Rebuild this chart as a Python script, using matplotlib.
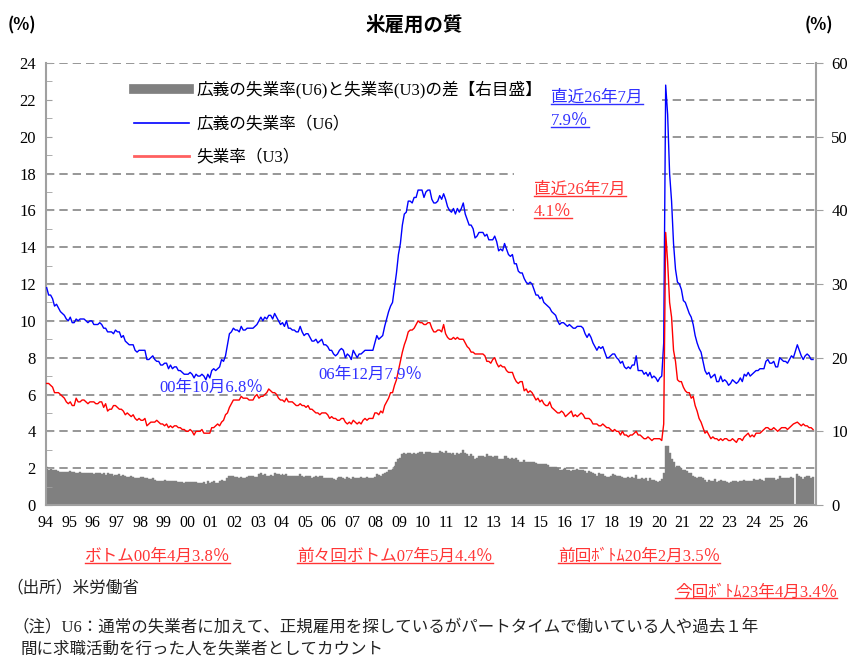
import numpy as np
import matplotlib
matplotlib.use('Agg')
import matplotlib.pyplot as plt
from matplotlib.lines import Line2D
from matplotlib.patches import Rectangle

JP = ['Liberation Serif', 'Noto Sans CJK JP']
plt.rcParams['font.family'] = JP

# x tick labels (one per year, Jan position)
years = [str(y % 100).zfill(2) for y in range(1994, 2027)]

# U3 unemployment rate, monthly from 1994-01 to 2026-07 (2025-10 missing)
u3 = [
    6.6, 6.6, 6.5, 6.4, 6.1, 6.1, 6.1, 6.0, 5.9, 5.8, 5.6, 5.5,   # 94
    5.6, 5.4, 5.4, 5.8, 5.6, 5.6, 5.7, 5.7, 5.6, 5.5, 5.6, 5.6,   # 95
    5.6, 5.5, 5.5, 5.6, 5.6, 5.3, 5.5, 5.1, 5.2, 5.2, 5.4, 5.4,   # 96
    5.3, 5.2, 5.2, 5.1, 4.9, 5.0, 4.9, 4.8, 4.9, 4.7, 4.6, 4.7,   # 97
    4.6, 4.6, 4.7, 4.3, 4.4, 4.5, 4.5, 4.5, 4.6, 4.5, 4.4, 4.4,   # 98
    4.3, 4.4, 4.2, 4.3, 4.2, 4.3, 4.3, 4.2, 4.2, 4.1, 4.1, 4.0,   # 99
    4.0, 4.1, 4.0, 3.8, 4.0, 4.0, 4.0, 4.1, 3.9, 3.9, 3.9, 3.9,   # 00
    4.2, 4.2, 4.3, 4.4, 4.3, 4.5, 4.6, 4.9, 5.0, 5.3, 5.5, 5.7,   # 01
    5.7, 5.7, 5.7, 5.9, 5.8, 5.8, 5.8, 5.7, 5.7, 5.7, 5.9, 6.0,   # 02
    5.8, 5.9, 5.9, 6.0, 6.1, 6.3, 6.2, 6.1, 6.1, 6.0, 5.8, 5.7,   # 03
    5.7, 5.6, 5.8, 5.6, 5.6, 5.6, 5.5, 5.4, 5.4, 5.5, 5.4, 5.4,   # 04
    5.3, 5.4, 5.2, 5.2, 5.1, 5.0, 5.0, 4.9, 5.0, 5.0, 5.0, 4.9,   # 05
    4.7, 4.8, 4.7, 4.7, 4.6, 4.6, 4.7, 4.7, 4.5, 4.4, 4.5, 4.4,   # 06
    4.6, 4.5, 4.4, 4.5, 4.4, 4.6, 4.7, 4.6, 4.7, 4.7, 4.7, 5.0,   # 07
    5.0, 4.9, 5.1, 5.0, 5.4, 5.6, 5.8, 6.1, 6.1, 6.5, 6.8, 7.3,   # 08
    7.8, 8.3, 8.7, 9.0, 9.4, 9.5, 9.5, 9.6, 9.8, 10.0, 9.9, 9.9,  # 09
    9.8, 9.8, 9.9, 9.9, 9.6, 9.4, 9.4, 9.5, 9.5, 9.4, 9.8, 9.3,   # 10
    9.1, 9.0, 9.0, 9.1, 9.0, 9.1, 9.0, 9.0, 9.0, 8.8, 8.6, 8.5,   # 11
    8.3, 8.3, 8.2, 8.2, 8.2, 8.2, 8.2, 8.1, 7.8, 7.8, 7.7, 7.9,   # 12
    8.0, 7.7, 7.5, 7.6, 7.5, 7.5, 7.3, 7.2, 7.2, 7.2, 6.9, 6.7,   # 13
    6.6, 6.7, 6.7, 6.2, 6.3, 6.1, 6.2, 6.1, 5.9, 5.7, 5.8, 5.6,   # 14
    5.7, 5.5, 5.4, 5.4, 5.6, 5.3, 5.2, 5.1, 5.0, 5.0, 5.1, 5.0,   # 15
    4.8, 4.9, 5.0, 5.1, 4.8, 4.9, 4.8, 4.9, 5.0, 4.9, 4.7, 4.7,   # 16
    4.7, 4.6, 4.4, 4.4, 4.4, 4.3, 4.3, 4.4, 4.3, 4.2, 4.2, 4.1,   # 17
    4.0, 4.1, 4.0, 4.0, 3.8, 4.0, 3.8, 3.8, 3.7, 3.8, 3.8, 3.9,   # 18
    4.0, 3.8, 3.8, 3.7, 3.6, 3.6, 3.7, 3.6, 3.5, 3.6, 3.6, 3.6,   # 19
    3.6, 3.5, 4.4, 14.8, 13.2, 11.0, 10.2, 8.4, 7.8, 6.8, 6.7, 6.7,  # 20
    6.4, 6.2, 6.1, 6.1, 5.8, 5.9, 5.4, 5.1, 4.7, 4.5, 4.2, 3.9,   # 21
    4.0, 3.8, 3.6, 3.7, 3.6, 3.6, 3.5, 3.6, 3.5, 3.6, 3.6, 3.5,   # 22
    3.5, 3.6, 3.5, 3.4, 3.6, 3.6, 3.5, 3.7, 3.8, 3.9, 3.7, 3.8,   # 23
    3.7, 3.9, 3.9, 3.9, 4.0, 4.1, 4.2, 4.2, 4.1, 4.1, 4.2, 4.1,   # 24
    4.0, 4.1, 4.2, 4.2, 4.2, 4.1, 4.2, 4.3, 4.4, np.nan, 4.5, 4.4,  # 25
    4.3, 4.4, 4.3, 4.3, 4.2, 4.2, 4.1,                            # 26
]

# U6 broad unemployment rate, same months
u6 = [
    11.8, 11.4, 11.4, 11.2, 10.8, 10.9, 10.7, 10.5, 10.4, 10.3, 10.1, 10.0,  # 94
    10.2, 9.9, 9.9, 10.1, 10.0, 10.1, 10.1, 10.1, 10.0, 9.9, 10.0, 10.0,    # 95
    9.8, 9.8, 9.8, 9.9, 9.8, 9.6, 9.6, 9.4, 9.4, 9.4, 9.3, 9.5,             # 96
    9.4, 9.4, 9.1, 9.2, 8.9, 8.8, 8.7, 8.7, 8.7, 8.4, 8.3, 8.4,             # 97
    8.4, 8.4, 8.4, 7.9, 7.9, 8.0, 8.1, 7.9, 7.8, 7.8, 7.6, 7.6,             # 98
    7.7, 7.7, 7.4, 7.6, 7.4, 7.5, 7.5, 7.3, 7.3, 7.2, 7.1, 7.1,             # 99
    7.1, 7.2, 7.1, 6.9, 7.1, 7.0, 7.0, 7.1, 7.0, 6.8, 7.1, 6.9,             # 00
    7.3, 7.4, 7.3, 7.4, 7.5, 7.9, 7.8, 8.1, 8.7, 9.3, 9.4, 9.6,             # 01
    9.5, 9.5, 9.4, 9.7, 9.5, 9.5, 9.6, 9.6, 9.6, 9.6, 9.7, 9.8,             # 02
    10.0, 10.2, 10.0, 10.2, 10.1, 10.3, 10.3, 10.1, 10.4, 10.2, 10.0, 9.8,  # 03
    9.9, 9.7, 10.0, 9.6, 9.6, 9.5, 9.5, 9.4, 9.4, 9.7, 9.4, 9.2,            # 04
    9.3, 9.3, 9.1, 8.9, 8.9, 9.0, 8.8, 8.9, 9.0, 8.7, 8.7, 8.6,             # 05
    8.4, 8.4, 8.2, 8.1, 8.2, 8.4, 8.5, 8.4, 8.0, 8.2, 8.1, 7.9,             # 06
    8.4, 8.2, 8.0, 8.2, 8.2, 8.3, 8.4, 8.4, 8.4, 8.4, 8.4, 8.8,             # 07
    9.2, 9.0, 9.1, 9.2, 9.7, 10.1, 10.5, 10.8, 11.0, 11.8, 12.6, 13.6,      # 08
    14.2, 15.2, 15.8, 15.9, 16.5, 16.5, 16.4, 16.7, 16.7, 17.1, 17.1, 17.1, # 09
    16.7, 17.0, 17.1, 17.1, 16.6, 16.4, 16.4, 16.5, 16.8, 16.6, 16.9, 16.6, # 10
    16.2, 16.0, 15.9, 16.1, 15.8, 16.1, 15.9, 16.1, 16.4, 15.8, 15.5, 15.2, # 11
    15.2, 15.0, 14.5, 14.6, 14.8, 14.8, 14.8, 14.6, 14.7, 14.4, 14.4, 14.4, # 12
    14.6, 14.3, 13.8, 13.9, 13.8, 14.2, 13.9, 13.6, 13.5, 13.6, 13.1, 13.1, # 13
    12.7, 12.6, 12.6, 12.3, 12.1, 12.0, 12.1, 12.0, 11.7, 11.4, 11.4, 11.2, # 14
    11.3, 11.0, 10.9, 10.8, 10.7, 10.5, 10.4, 10.3, 10.0, 9.8, 9.9, 9.9,    # 15
    9.8, 9.7, 9.8, 9.7, 9.6, 9.6, 9.7, 9.7, 9.7, 9.6, 9.3, 9.1,             # 16
    9.3, 9.1, 8.8, 8.6, 8.4, 8.6, 8.5, 8.6, 8.3, 8.0, 8.0, 8.1,             # 17
    8.2, 8.2, 8.0, 7.9, 7.7, 7.8, 7.5, 7.4, 7.5, 7.4, 7.6, 7.6,             # 18
    8.1, 7.3, 7.3, 7.3, 7.1, 7.2, 7.0, 7.2, 6.9, 7.0, 6.9, 6.7,             # 19
    6.9, 7.0, 8.8, 22.8, 21.2, 18.0, 16.5, 14.2, 12.8, 12.1, 12.0, 11.7,    # 20
    11.1, 11.0, 10.7, 10.4, 10.2, 9.8, 9.2, 8.8, 8.5, 8.3, 7.8, 7.3,        # 21
    7.1, 7.2, 6.9, 7.0, 7.1, 6.7, 6.7, 7.0, 6.7, 6.8, 6.7, 6.5,             # 22
    6.6, 6.8, 6.7, 6.6, 6.7, 6.9, 6.7, 7.1, 7.0, 7.2, 7.0, 7.1,             # 23
    7.2, 7.3, 7.3, 7.4, 7.4, 7.4, 7.8, 7.9, 7.7, 7.7, 7.8, 7.5,             # 24
    7.5, 8.0, 7.9, 7.8, 7.8, 7.7, 7.9, 8.1, 8.0, np.nan, 8.7, 8.4,          # 25
    8.1, 7.9, 8.1, 8.2, 8.1, 7.9, 7.9,                                      # 26
]

u3 = np.array(u3, dtype=float)
u6 = np.array(u6, dtype=float)
gap = u6 - u3
months = np.arange(len(u3))
ok = ~np.isnan(u3)

W, H = 858, 669
def fx(px):
    return px / W
def fy(py):
    return 1 - py / H

fig = plt.figure(figsize=(W / 100, H / 100), dpi=100)
left, right, top, bottom = 45.7, 816, 63, 505
ax = fig.add_axes([fx(left), fy(bottom), (right - left) / W, (bottom - top) / H])
ax2 = ax.twinx()

# bars: gap between U6 and U3, right axis
ax.bar(months, gap, width=1.0, align='edge', color='#808080',
       edgecolor='#808080', linewidth=0.3, zorder=2)
ax.set_ylim(0, 60)
ax.set_xlim(0, 392)
ax.yaxis.tick_right()
ax.set_yticks(range(0, 61, 10))
ax.set_yticks(range(0, 61, 5), minor=True)
ax.set_axisbelow(True)
ax.grid(axis='y', which='both', linestyle=(0, (5, 3)), color='#858585', linewidth=1.2)
ax.tick_params(axis='y', which='minor', length=0)
ax.tick_params(axis='y', which='major', direction='out', length=5, color='#a0a0a0',
               labelsize=12, pad=6)
ax.set_xticks(range(0, 385, 12))
ax.set_xticklabels(years)
ax.set_xticks(range(6, 392, 6), minor=True)
ax.tick_params(axis='x', which='both', direction='in', length=3, color='#c8c8c8',
               labelsize=11.5, pad=7)
for s in ['left', 'right', 'bottom']:
    ax.spines[s].set_color('#a0a0a0')
    ax.spines[s].set_linewidth(1.5)
ax.spines['top'].set_visible(False)

# white areas behind the legend and the callouts
for x0, y0, x1, y1 in [(left, 70, 540, 168), (540, 80, 662, 145), (514, 162, 662, 222)]:
    ax.add_patch(Rectangle((fx(x0), fy(y1)), (x1 - x0) / W, (y1 - y0) / H,
                           transform=fig.transFigure, facecolor='white',
                           edgecolor='none', zorder=1))

# lines, left axis
ax2.plot(months[ok] + 0.5, u6[ok], color='#0000ff', linewidth=1.0)
ax2.plot(months[ok] + 0.5, u3[ok], color='#ff0000', linewidth=1.0)
ax2.set_ylim(0, 24)
ax2.yaxis.tick_left()
ax2.set_yticks(range(0, 25, 2))
ax2.set_yticks(range(0, 25, 1), minor=True)
ax2.tick_params(axis='y', which='both', direction='in', length=4, color='#a0a0a0',
                labelsize=12, pad=7)
for s in ax2.spines.values():
    s.set_visible(False)

handles = [Line2D([], [], color='#808080', linewidth=7),
           Line2D([], [], color='#0000ff', linewidth=1.2),
           Line2D([], [], color='#ff6060', linewidth=2)]
labels = ['広義の失業率(U6)と失業率(U3)の差【右目盛】', '広義の失業率（U6）', '失業率（U3）']
ax2.legend(handles, labels, loc='upper left', bbox_to_anchor=(fx(134), fy(81)),
           bbox_transform=fig.transFigure, frameon=False, borderpad=0, borderaxespad=0,
           handlelength=3.3, handletextpad=0.45, labelspacing=1.05, fontsize=12)

# texts
fig.text(fx(414), fy(25), '米雇用の質', ha='center', va='center', fontsize=14,
         fontweight='bold', family='Noto Sans CJK JP')
fig.text(fx(8), fy(25), '(%)', ha='left', va='center', fontsize=12, fontweight='bold',
         family='Noto Sans CJK JP')
fig.text(fx(805), fy(25), '(%)', ha='left', va='center', fontsize=12, fontweight='bold',
         family='Noto Sans CJK JP')

blue_t = '#3030ff'
red_t = '#ff3535'
fs = 12
under = []
under.append(fig.text(fx(551), fy(98), '直近26年7月', color=blue_t, fontsize=fs, va='center'))
under.append(fig.text(fx(551), fy(121), '7.9％', color=blue_t, fontsize=fs, va='center'))
under.append(fig.text(fx(534), fy(190), '直近26年7月', color=red_t, fontsize=fs, va='center'))
under.append(fig.text(fx(534), fy(212), '4.1％', color=red_t, fontsize=fs, va='center'))
fig.text(fx(159), fy(388), '00年10月6.8％', color=blue_t, fontsize=fs, va='center')
fig.text(fx(318), fy(375), '06年12月7.9％', color=blue_t, fontsize=fs, va='center')

under.append(fig.text(fx(85), fy(557), 'ボトム00年4月3.8％', color=red_t, fontsize=fs, va='center'))
under.append(fig.text(fx(297), fy(557), '前々回ボトム07年5月4.4％', color=red_t, fontsize=fs, va='center'))
under.append(fig.text(fx(558), fy(557), '前回ﾎﾞﾄﾑ20年2月3.5％', color=red_t, fontsize=fs, va='center'))
under.append(fig.text(fx(675), fy(592), '今回ﾎﾞﾄﾑ23年4月3.4％', color=red_t, fontsize=fs, va='center'))

fig.text(fx(6), fy(588), '（出所）米労働省', color='#222222', fontsize=fs, va='center')
fig.text(fx(12), fy(627), '（注）U6：通常の失業者に加えて、正規雇用を探しているがパートタイムで働いている人や過去１年',
         color='#222222', fontsize=11.9, va='center')
fig.text(fx(20), fy(649), '間に求職活動を行った人を失業者としてカウント',
         color='#222222', fontsize=11.9, va='center')

# underline the callouts
fig.canvas.draw()
inv = fig.transFigure.inverted()
for t in under:
    bb = t.get_window_extent()
    (x0, y0), (x1, _) = inv.transform([(bb.x0, bb.y0 + 2), (bb.x1, bb.y1)])
    fig.add_artist(Line2D([x0, x1], [y0, y0], color=t.get_color(), linewidth=1.0,
                          transform=fig.transFigure))

fig.savefig('out.png', dpi=100)
